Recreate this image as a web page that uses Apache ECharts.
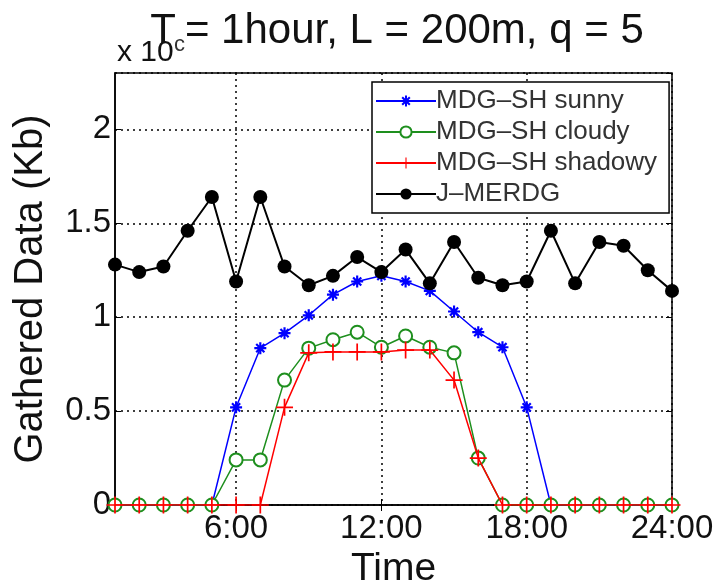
<!DOCTYPE html>
<html>
<head>
<meta charset="utf-8">
<script src="https://cdn.jsdelivr.net/npm/echarts@6/dist/echarts.min.js"></script>
<style>
  html, body { margin: 0; padding: 0; background: #fff; }
  #chart { width: 717px; height: 583px; }
</style>
</head>
<body>
<div id="chart"></div>
<script>
// Hour slots of the day (x axis categories)
const hours = ['1:00','2:00','3:00','4:00','5:00','6:00','7:00','8:00','9:00','10:00','11:00','12:00',
               '13:00','14:00','15:00','16:00','17:00','18:00','19:00','20:00','21:00','22:00','23:00','24:00'];
// Gathered data per hour (x 10^4 Kb)
const sunny    = [0,0,0,0,0,0.52,0.835,0.915,1.01,1.12,1.19,1.22,1.19,1.14,1.03,0.92,0.84,0.52,0,0,0,0,0,0];
const cloudy   = [0,0,0,0,0,0.24,0.24,0.665,0.835,0.88,0.92,0.84,0.90,0.84,0.81,0.25,0,0,0,0,0,0,0,0];
const shadowy  = [0,0,0,0,0,0,0,0.52,0.81,0.815,0.815,0.815,0.825,0.825,0.665,0.25,0,0,0,0,0,0,0,0];
const jmerdg   = [1.28,1.24,1.27,1.46,1.64,1.19,1.64,1.27,1.17,1.22,1.32,1.24,1.36,1.18,1.40,1.21,1.17,1.19,1.46,1.18,1.40,1.38,1.25,1.14];
const seriesNames = ['MDG\u2013SH sunny','MDG\u2013SH cloudy','MDG\u2013SH shadowy','J\u2013MERDG'];
const yTicks = [0, 0.5, 1, 1.5, 2];

const FONT = "'Liberation Sans', Arial, Helvetica, sans-serif";
// asterisk and plus marker outlines (filled)
const asterisk = 'path://M8.2,0H11.8V20H8.2Z M0,8.2H20V11.8H0Z M1.9,4.5L4.5,1.9L18.1,15.5L15.5,18.1Z M15.5,1.9L18.1,4.5L4.5,18.1L1.9,15.5Z';
const plus = 'path://M9,0H11V9H20V11H11V20H9V11H0V9H9Z';
const sixHour = (i) => (i + 1) % 6 === 0;

const chart = echarts.init(document.getElementById('chart'), null, { renderer: 'canvas' });

chart.setOption({
  animation: false,
  backgroundColor: '#fff',
  textStyle: { fontFamily: FONT },
  title: {
    text: '{t|T}{s|c}{t|= 1hour, L = 200m, q = 5}',
    left: 392,
    textAlign: 'center',
    top: 5,
    textStyle: {
      rich: {
        t: { fontFamily: FONT, fontSize: 42, fontWeight: 'normal', color: '#111' },
        s: { fontFamily: FONT, fontSize: 22, fontWeight: 'normal', color: '#333', verticalAlign: 'bottom', padding: [0, 0, -4, -2] }
      }
    }
  },
  graphic: [{
    type: 'text',
    left: 117,
    top: 38,
    style: { text: 'x 10', font: '30px ' + FONT, fill: '#111' }
  }],
  legend: {
    orient: 'vertical',
    left: 372,
    top: 82,
    padding: [5, 12, 5, 3],
    itemGap: 3,
    itemWidth: 60,
    itemHeight: 14,
    backgroundColor: '#fff',
    borderColor: '#000',
    borderWidth: 1.5,
    borderRadius: 0,
    textStyle: { fontFamily: FONT, fontSize: 26, lineHeight: 28, color: '#333', padding: [0, 0, 0, -5] },
    data: seriesNames
  },
  grid: {
    left: 115, right: 45, top: 73, bottom: 78,
    outerBoundsMode: 'none',
    containLabel: false,
    show: true, borderColor: '#000', borderWidth: 1.5, backgroundColor: '#fff'
  },
  xAxis: [{
    type: 'category',
    data: hours,
    boundaryGap: false,
    axisLine: { lineStyle: { color: '#000', width: 1.5 } },
    axisTick: { inside: true, length: 6, interval: sixHour, lineStyle: { color: '#000' } },
    axisLabel: {
      interval: sixHour, margin: 7,
      fontFamily: FONT, fontSize: 33, color: '#111'
    },
    splitLine: { show: true, interval: sixHour, lineStyle: { color: '#000', width: 1.5, type: [2, 4] } },
    name: 'Time',
    nameLocation: 'middle',
    nameGap: 39,
    nameTextStyle: { fontFamily: FONT, fontSize: 39, color: '#111' }
  }, {
    type: 'category',
    data: hours,
    boundaryGap: false,
    position: 'top',
    axisLine: { show: false },
    axisTick: { inside: true, length: 6, interval: sixHour, lineStyle: { color: '#000' } },
    axisLabel: { show: false },
    splitLine: { show: false }
  }],
  yAxis: [{
    type: 'value',
    min: 0, max: 2.3, interval: 0.5,
    axisLine: { show: true, lineStyle: { color: '#000', width: 1.5 } },
    axisTick: { show: true, inside: true, length: 6, lineStyle: { color: '#000' } },
    axisLabel: {
      showMaxLabel: false, margin: 4,
      fontFamily: FONT, fontSize: 33, color: '#111',
      formatter: (v) => yTicks.includes(v) ? String(v) : ''
    },
    splitLine: { show: true, lineStyle: { color: '#000', width: 1.5, type: [2, 4] } },
    name: 'Gathered Data (Kb)',
    nameLocation: 'middle',
    nameRotate: 90,
    nameGap: 64,
    nameTextStyle: { fontFamily: FONT, fontSize: 40, color: '#111' }
  }, {
    type: 'value',
    min: 0, max: 2.3, interval: 0.5,
    position: 'right',
    axisLine: { show: false },
    axisTick: { show: true, inside: true, length: 6, lineStyle: { color: '#000' } },
    axisLabel: { show: false },
    splitLine: { show: false }
  }],
  series: [{
    name: seriesNames[0],
    type: 'line',
    data: sunny,
    symbol: asterisk,
    symbolSize: 12,
    showAllSymbol: true,
    lineStyle: { color: '#0000ff', width: 1.5 },
    itemStyle: { color: '#0000ff' },
    z: 2
  }, {
    name: seriesNames[1],
    type: 'line',
    data: cloudy,
    symbol: 'emptyCircle',
    symbolSize: 13,
    showAllSymbol: true,
    lineStyle: { color: '#1e8f1e', width: 1.5 },
    itemStyle: { color: '#1e8f1e', borderWidth: 1.5 },
    z: 3
  }, {
    name: seriesNames[2],
    type: 'line',
    data: shadowy,
    symbol: plus,
    symbolSize: 17,
    showAllSymbol: true,
    lineStyle: { color: '#ff0000', width: 1.5 },
    itemStyle: { color: '#ff0000' },
    z: 4
  }, {
    name: seriesNames[3],
    type: 'line',
    data: jmerdg,
    symbol: 'circle',
    symbolSize: 14,
    showAllSymbol: true,
    lineStyle: { color: '#000', width: 2 },
    itemStyle: { color: '#000' },
    z: 5
  }]
});
</script>
</body>
</html>
